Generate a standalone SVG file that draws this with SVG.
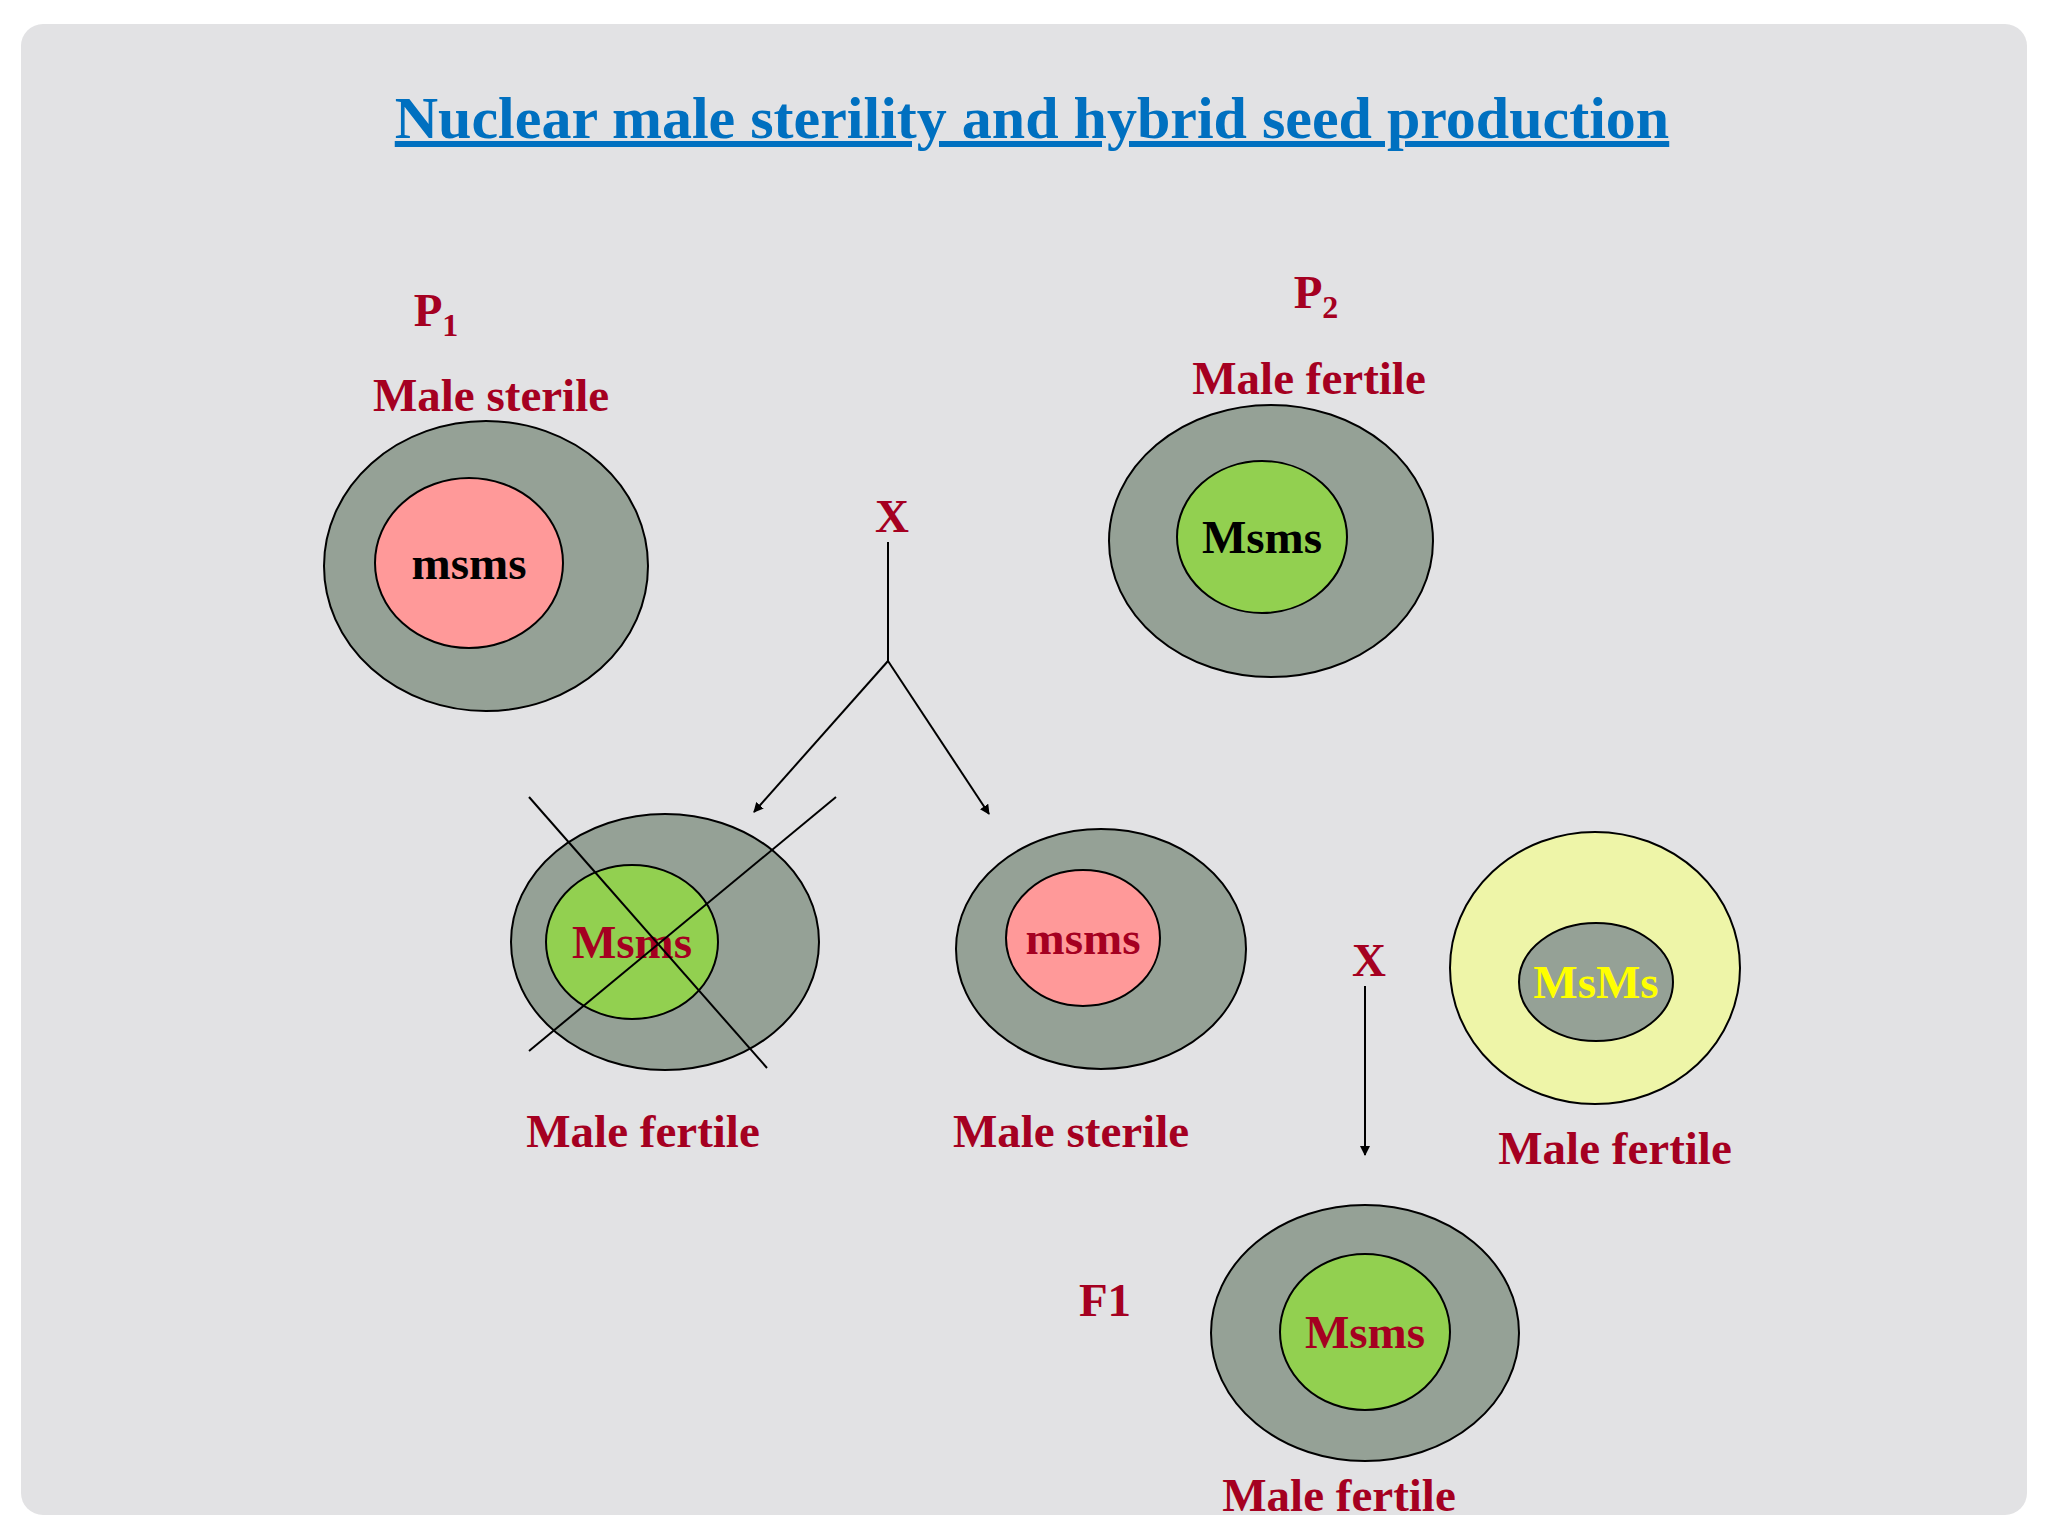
<svg xmlns="http://www.w3.org/2000/svg" width="2048" height="1536" viewBox="0 0 2048 1536">
<style>
.t{font-family:"Liberation Serif",serif;font-weight:bold;font-size:47px;fill:#a50021;text-anchor:middle}
.o{fill:#95a196;stroke:#000;stroke-width:2}
.ln{stroke:#000;stroke-width:2;fill:none}
</style>
<defs><marker id="a" markerWidth="10" markerHeight="10" refX="9" refY="5" orient="auto" markerUnits="userSpaceOnUse"><path d="M0,0 L10,5 L0,10 z"/></marker></defs>
<rect width="2048" height="1536" fill="#fff"/>
<rect x="21" y="24" width="2006" height="1491" rx="22" fill="#e2e2e4"/>
<text x="1032" y="138" font-family="Liberation Serif,serif" font-weight="bold" font-size="60" fill="#0070c0" text-anchor="middle" text-decoration="underline">Nuclear male sterility and hybrid seed production</text>
<g id="p1"><text class="t" x="436" y="326">P<tspan font-size="32" dy="10">1</tspan></text><text class="t" x="491" y="411">Male sterile</text>
<ellipse class="o" cx="486" cy="566" rx="162" ry="145"/><ellipse cx="469" cy="563" rx="94" ry="85" fill="#ff9999" stroke="#000" stroke-width="2"/><text class="t" x="469" y="579" fill="#000" style="fill:#000">msms</text></g>
<g id="p2"><text class="t" x="1316" y="308">P<tspan font-size="32" dy="10">2</tspan></text><text class="t" x="1309" y="394">Male fertile</text>
<ellipse class="o" cx="1271" cy="541" rx="162" ry="136"/><ellipse cx="1262" cy="537" rx="85" ry="76" fill="#92d050" stroke="#000" stroke-width="2"/><text class="t" x="1262" y="553" style="fill:#000">Msms</text></g>
<g id="c1"><ellipse class="o" cx="665" cy="942" rx="154" ry="128"/><ellipse cx="632" cy="942" rx="86" ry="77" fill="#92d050" stroke="#000" stroke-width="2"/><text class="t" x="632" y="958">Msms</text>
<line class="ln" x1="529" y1="797" x2="767" y2="1068"/><line class="ln" x1="836" y1="797" x2="529" y2="1051"/><text class="t" x="643" y="1147">Male fertile</text></g>
<g id="c2"><ellipse class="o" cx="1101" cy="949" rx="145" ry="120"/><ellipse cx="1083" cy="938" rx="77" ry="68" fill="#ff9999" stroke="#000" stroke-width="2"/><text class="t" x="1083" y="954">msms</text><text class="t" x="1071" y="1147">Male sterile</text></g>
<g id="c3"><ellipse cx="1595" cy="968" rx="145" ry="136" fill="#eef5a8" stroke="#000" stroke-width="2"/><ellipse class="o" cx="1596" cy="982" rx="77" ry="59"/><text class="t" x="1596" y="998" style="fill:#ffff00">MsMs</text><text class="t" x="1615" y="1164">Male fertile</text></g>
<g id="f1"><text class="t" x="1105" y="1316">F1</text><ellipse class="o" cx="1365" cy="1333" rx="154" ry="128"/><ellipse cx="1365" cy="1332" rx="85" ry="78" fill="#92d050" stroke="#000" stroke-width="2"/><text class="t" x="1365" y="1348">Msms</text><text class="t" x="1339" y="1511">Male fertile</text></g>
<g id="connectors">
<text class="t" x="892" y="532">X</text>
<polyline class="ln" points="888,542 888,661"/>
<line class="ln" x1="888" y1="661" x2="754" y2="812" marker-end="url(#a)"/>
<line class="ln" x1="888" y1="661" x2="989" y2="814" marker-end="url(#a)"/>
<text class="t" x="1369" y="976">X</text>
<line class="ln" x1="1365" y1="986" x2="1365" y2="1155" marker-end="url(#a)"/>
</g>
</svg>
